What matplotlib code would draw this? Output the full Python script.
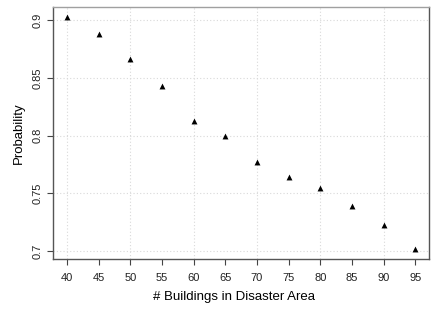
import matplotlib
matplotlib.use('Agg')
import matplotlib.pyplot as plt

# data
buildings = [40, 45, 50, 55, 60, 65, 70, 75, 80, 85, 90, 95]
prob = [0.903, 0.888, 0.866, 0.843, 0.813, 0.800, 0.777, 0.764, 0.755, 0.739, 0.723, 0.702]
xticks = [40, 45, 50, 55, 60, 65, 70, 75, 80, 85, 90, 95]
yticks = [0.7, 0.75, 0.8, 0.85, 0.9]
ytick_labels = ['0.7', '0.75', '0.8', '0.85', '0.9']

plt.rcParams['font.family'] = ['Liberation Sans', 'DejaVu Sans']

fig = plt.figure(figsize=(4.36, 3.14), dpi=100)
ax = fig.add_axes([0.1216, 0.1761, 0.863, 0.8016])

# dotted grid like R's grid()
for gx in [40, 50, 60, 70, 80, 90]:
    ax.axvline(gx, color='#d9d9d9', lw=0.8, ls=(0, (1, 2)), zorder=0)
for gy in yticks:
    ax.axhline(gy, color='#d9d9d9', lw=0.8, ls=(0, (1, 2)), zorder=0)

ax.scatter(buildings, prob, marker='^', s=18, color='black', zorder=3, linewidths=0)

ax.set_xlim(37.8, 97.2)
ax.set_ylim(0.6935, 0.9113)
ax.set_xticks(xticks)
ax.set_xticklabels([str(x) for x in xticks])
ax.set_yticks(yticks)
ax.set_yticklabels(ytick_labels, rotation=90, va='center')

ax.tick_params(axis='both', direction='out', length=4.3, width=0.8, color='#444444',
               labelsize=8, labelcolor='#222222')
ax.tick_params(axis='x', pad=6)
ax.tick_params(axis='y', pad=3.5)

for side in ['left', 'bottom', 'right']:
    ax.spines[side].set_color('#555555')
    ax.spines[side].set_linewidth(1.0)
ax.spines['top'].set_color('#a0a0a0')
ax.spines['top'].set_linewidth(1.0)

ax.set_xlabel('# Buildings in Disaster Area', fontsize=9.5)
ax.set_ylabel('Probability', fontsize=9.5)
ax.xaxis.set_label_coords(0.481, -0.127)
ax.yaxis.set_label_coords(-0.0758, 0.5)

fig.savefig('out.png', dpi=100)
